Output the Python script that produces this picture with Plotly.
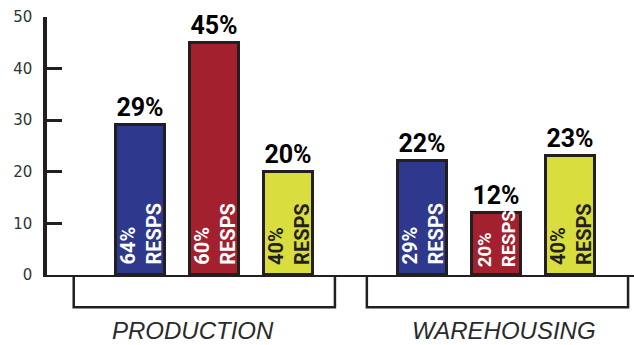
import plotly.graph_objects as go

# Survey results by operation area
GROUPS = ["PRODUCTION", "WAREHOUSING"]
SERIES_COLORS = ["#2E388C", "#A3212F", "#D9DD3E"]
VALUES = [[29, 45, 20], [22, 12, 23]]           # % shown above each bar
RESPONDENTS = [[64, 60, 40], [29, 20, 40]]      # % of respondents written inside bars
Y_TICKS = [0, 10, 20, 30, 40, 50]

# layout constants
GROUP_GAP = 0.8
BAR_WIDTH = 0.66
INK = "#231F20"
BOLD_FONT = "Roboto, Liberation Sans, Arial"
BRACKETS = [(-0.90, 2.62), (3.05, 6.57)]        # x extent of each group bracket
GROUP_LABEL_X = [0.71, 4.90]

fig = go.Figure()

for g, group in enumerate(GROUPS):
    for i, (v, r) in enumerate(zip(VALUES[g], RESPONDENTS[g])):
        x = g * (3 + GROUP_GAP) + i
        inside_color = INK if i == 2 else "white"
        fig.add_trace(go.Bar(
            x=[x], y=[v], width=BAR_WIDTH,
            marker=dict(color=SERIES_COLORS[i], line=dict(color=INK, width=3)),
            text=[f"{v}%"], textposition="outside", constraintext="none",
            textfont=dict(family=BOLD_FONT, size=25, color="black", weight="bold"),
            cliponaxis=False, showlegend=False, hoverinfo="skip",
        ))
        # short bars get a slightly smaller label so it stays inside
        short = v < 15
        fig.add_annotation(
            x=x, y=0, xref="x", yref="y", yanchor="bottom", xanchor="center",
            yshift=6 if short else 8, textangle=-90, align="left", showarrow=False,
            text=f"{r}%<br>RESPS",
            font=dict(family=BOLD_FONT, size=18.5 if short else 20,
                      color=inside_color, weight="bold"),
        )

    x0, x1 = BRACKETS[g]
    fig.add_shape(
        type="path", xref="x", yref="paper",
        path=f"M {x0} -0.006 L {x0} -0.1252 L {x1} -0.1252 L {x1} -0.006",
        line=dict(color=INK, width=2.5),
    )
    fig.add_annotation(
        x=GROUP_LABEL_X[g], y=-0.217, xref="x", yref="paper",
        xanchor="center", yanchor="middle", showarrow=False, text=group,
        font=dict(family="Liberation Sans, Arial", size=24, color="#2a2a2a",
                  style="italic", weight=300),
    )

fig.update_layout(
    width=634, height=345,
    margin=dict(l=47, r=0, t=17, b=70),
    paper_bgcolor="white", plot_bgcolor="white",
    bargap=0,
    xaxis=dict(range=[-1.26, 6.65], showgrid=False, zeroline=False, showticklabels=False,
               ticks="", showline=True, linecolor=INK, linewidth=2),
    yaxis=dict(range=[0, 50], tickvals=Y_TICKS, showgrid=False, zeroline=False,
               showline=True, linecolor=INK, linewidth=3.5,
               ticks="inside", ticklen=15, tickwidth=3, tickcolor=INK,
               ticklabelstandoff=8,
               tickfont=dict(family="DejaVu Sans", size=15, color="#333333")),
)

fig.write_html("out.html")
